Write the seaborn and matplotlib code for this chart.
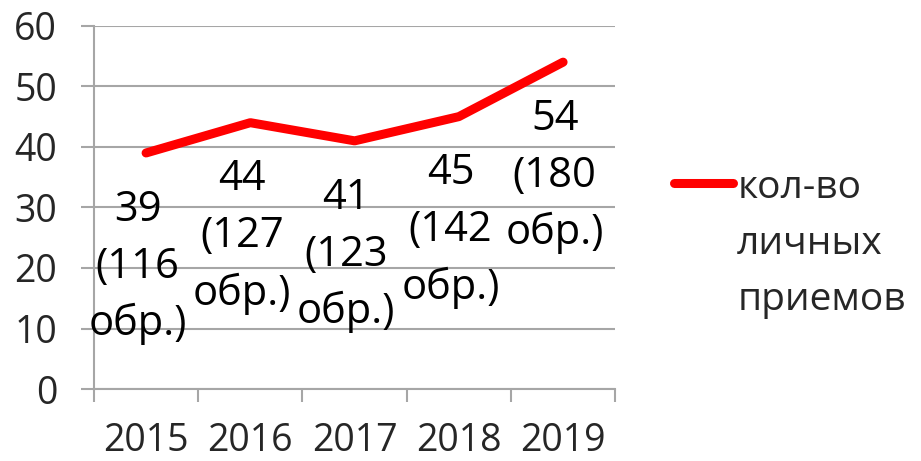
import pandas as pd
import matplotlib.pyplot as plt
import seaborn as sns

# data
years = ["2015", "2016", "2017", "2018", "2019"]
visits = [39, 44, 41, 45, 54]
requests = [116, 127, 123, 142, 180]
series_name = "кол-во\nличных\nприемов"

df = pd.DataFrame({"year": years, "visits": visits, "requests": requests})
df["pos"] = range(len(df))

sns.set_style("white")
plt.rcParams["font.family"] = ["Open Sans", "DejaVu Sans"]

grey = "#a6a6a6"
fig = plt.figure(figsize=(9.21, 4.61), dpi=100)
ax = fig.add_axes([0.102, 0.156, 0.566, 0.788])

sns.lineplot(data=df, x="pos", y="visits", ax=ax, color="#ff0000", linewidth=6.5,
             solid_capstyle="round", solid_joinstyle="round", label=series_name)

# data labels under each point
for _, row in df.iterrows():
    ax.annotate(f"{row['visits']}\n({row['requests']}\nобр.)",
                xy=(row["pos"], row["visits"]), xytext=(-6, -82),
                textcoords="offset points", ha="center", va="center",
                fontsize=30, linespacing=1.47, color="black")

ax.set_ylim(0, 60)
ax.set_xlim(-0.5, len(years) - 0.5)
ax.set_yticks(range(0, 61, 10))
ax.set_xticks(df["pos"])
ax.set_xticklabels(years)
ax.set_xticks([i - 0.5 for i in range(len(years) + 1)], minor=True)
ax.set_xlabel("")
ax.set_ylabel("")

ax.grid(axis="y", color=grey, linewidth=1.5)
ax.tick_params(axis="y", left=True, length=9.5, width=1.5, color=grey, pad=17,
               labelsize=27)
ax.tick_params(axis="x", which="major", bottom=False, length=0, pad=24, labelsize=27)
ax.tick_params(axis="x", which="minor", bottom=True, length=9.5, width=1.5, color=grey)
for s in ["top", "right"]:
    ax.spines[s].set_visible(False)
for s in ["left", "bottom"]:
    ax.spines[s].set_color(grey)
    ax.spines[s].set_linewidth(1.5)

leg = ax.legend(loc="upper left", bbox_to_anchor=(1.113, 0.605), frameon=False,
                fontsize=28, handlelength=1.52, handletextpad=0.1, borderaxespad=0,
                borderpad=0)
for t in leg.get_texts():
    t.set_linespacing(1.62)
# keep the legend line level with the first text line
for col in leg._legend_handle_box.get_children():
    for item in col.get_children():
        item.align = "top"

fig.savefig("out.png", dpi=100)
